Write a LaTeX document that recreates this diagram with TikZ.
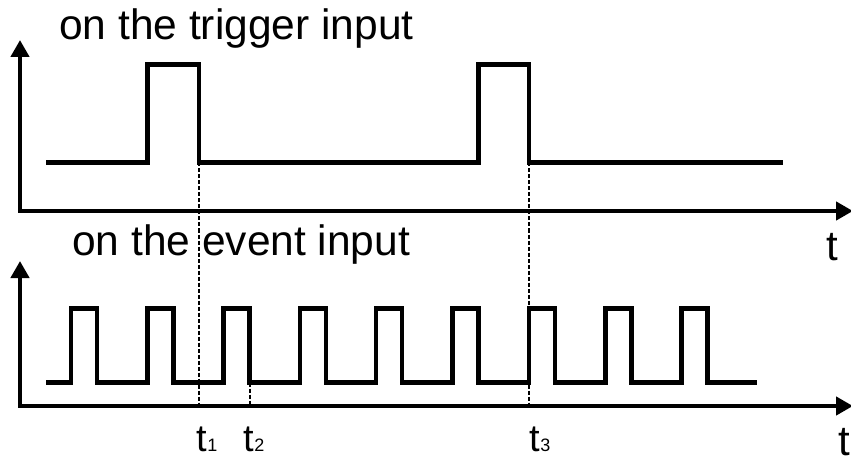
\documentclass[tikz,border=0pt]{standalone}
\usepackage{fontspec}
\setmainfont{Liberation Sans}
\usetikzlibrary{arrows.meta}
\begin{document}
\begin{tikzpicture}[x=1pt,y=-1pt,
  axis/.style={line width=4.4pt,{Triangle[length=17pt,width=18pt]}-{Triangle[length=17pt,width=18pt]}},
  sig/.style={line width=4.2pt,line join=miter},
  guide/.style={line width=2pt,dash pattern=on 4pt off 2pt},
  title/.style={anchor=base west,inner sep=0pt,font=\fontsize{42.5}{48}\selectfont},
  tlab/.style={anchor=base west,inner sep=0pt,font=\fontsize{38}{40}\selectfont},
  tbig/.style={anchor=base west,inner sep=0pt,font=\fontsize{42}{46}\selectfont}]
\useasboundingbox (0,0) rectangle (851,457);
% titles
\node[title] (ttrig) at (59,39.5) {on the trigger input};
\node[title] (tevent) at (72,255) {on the event input};
% axes
\coordinate (a1top) at (20,40);
\coordinate (a1o) at (20,211);
\coordinate (a1r) at (853,211);
\coordinate (a2top) at (20,261);
\coordinate (a2o) at (20,406);
\coordinate (a2r) at (853,406);
\draw[axis] (a1top) -- (a1o) -- (a1r);
\draw[axis] (a2top) -- (a2o) -- (a2r);
% guides
\draw[guide] (198.7,162.5) -- (198.7,406);
\draw[guide] (249.5,382.5) -- (249.5,406);
\draw[guide] (529,162.5) -- (529,406);
% trigger signal
\draw[sig] (46,162.5) -- (147.5,162.5) -- (147.5,64.5) -- (199,64.5) -- (199,162.5)
  -- (478.5,162.5) -- (478.5,64.5) -- (529,64.5) -- (529,162.5) -- (783,162.5);
% event signal
\draw[sig] (46,382.5)
  \foreach \r in {71,147.5,223.5,300,376,452.5,529,605.5,681.5}{
    -- (\r,382.5) -- (\r,308.5) -- (\r+26,308.5) -- (\r+26,382.5)}
  -- (757,382.5);
% labels
\node[tbig] (tt1) at (826,260.5) {t};
\node[tbig] (tt2) at (838,455) {t};
\node[tlab] (l1) at (196.5,451) {t{\fontsize{18}{18}\selectfont 1}};
\node[tlab] (l2) at (243.5,451) {t{\fontsize{18}{18}\selectfont 2}};
\node[tlab] (l3) at (529.5,451) {t{\fontsize{18}{18}\selectfont 3}};
\end{tikzpicture}
\end{document}
